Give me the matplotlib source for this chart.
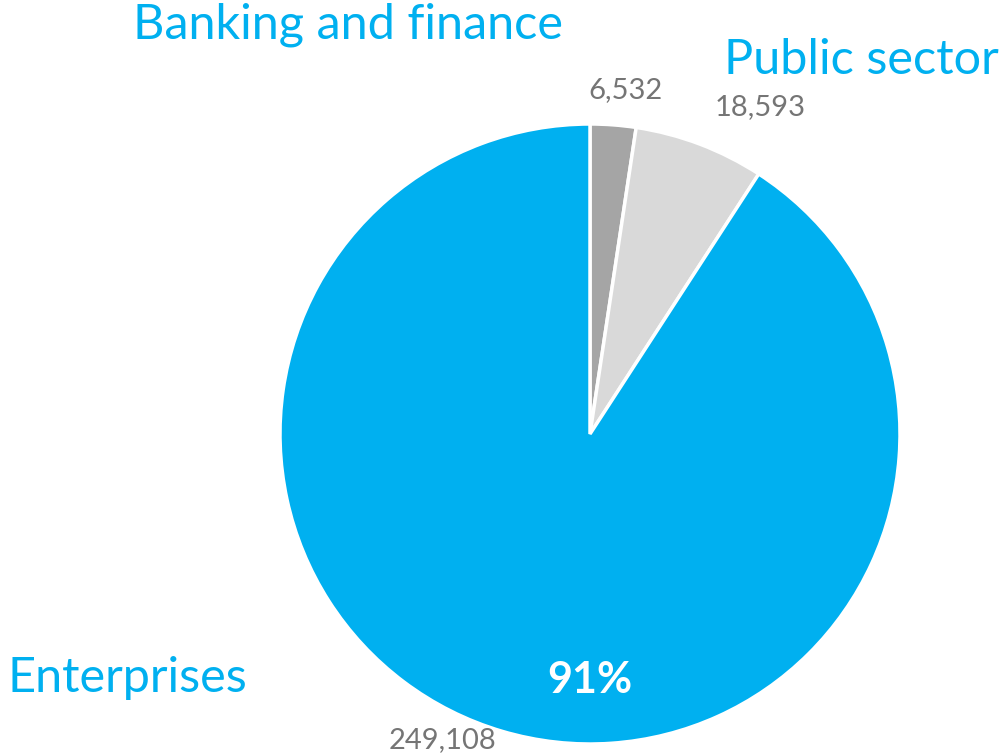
import matplotlib.pyplot as plt

# donnees
secteurs = ["Banking and finance", "Public sector", "Enterprises"]
valeurs = [6532, 18593, 249108]
couleurs = ["#A5A5A5", "#D9D9D9", "#00B0F0"]

plt.rcParams['font.family'] = ['Lato', 'DejaVu Sans']

fig = plt.figure(figsize=(10, 7.55), dpi=100)
ax = fig.add_axes([0, 0, 1, 1])

H = 755
wedges, _ = ax.pie(valeurs, colors=couleurs, startangle=90, counterclock=False,
                   center=(590, H - 434), radius=310,
                   wedgeprops=dict(edgecolor='white', linewidth=2.5))

# pie() impose ses propres limites : on les remet apres
ax.set_xlim(0, 1000)
ax.set_ylim(0, 755)
ax.set_aspect('equal')
ax.axis('off')

total = sum(valeurs)
part = round(100 * valeurs[2] / total)

# etiquettes des secteurs
bleu = "#00B0F0"
ax.text(133, H - 25, secteurs[0], fontsize=35, color=bleu, va='center', ha='left')
ax.text(724, H - 60, secteurs[1], fontsize=35, color=bleu, va='center', ha='left')
ax.text(8, H - 678, secteurs[2], fontsize=35, color=bleu, va='center', ha='left')

# valeurs
gris = "#757575"
ax.text(625, H - 90, f"{valeurs[0]:,}", fontsize=21, color=gris, ha='center', va='center')
ax.text(760, H - 107, f"{valeurs[1]:,}", fontsize=21, color=gris, ha='center', va='center')
ax.text(443, H - 740, f"{valeurs[2]:,}", fontsize=21, color=gris, ha='center', va='center')

ax.text(590, H - 680, f"{part}%", fontsize=31, color='white', fontweight='bold',
        ha='center', va='center')

fig.savefig("out.png", dpi=100)
